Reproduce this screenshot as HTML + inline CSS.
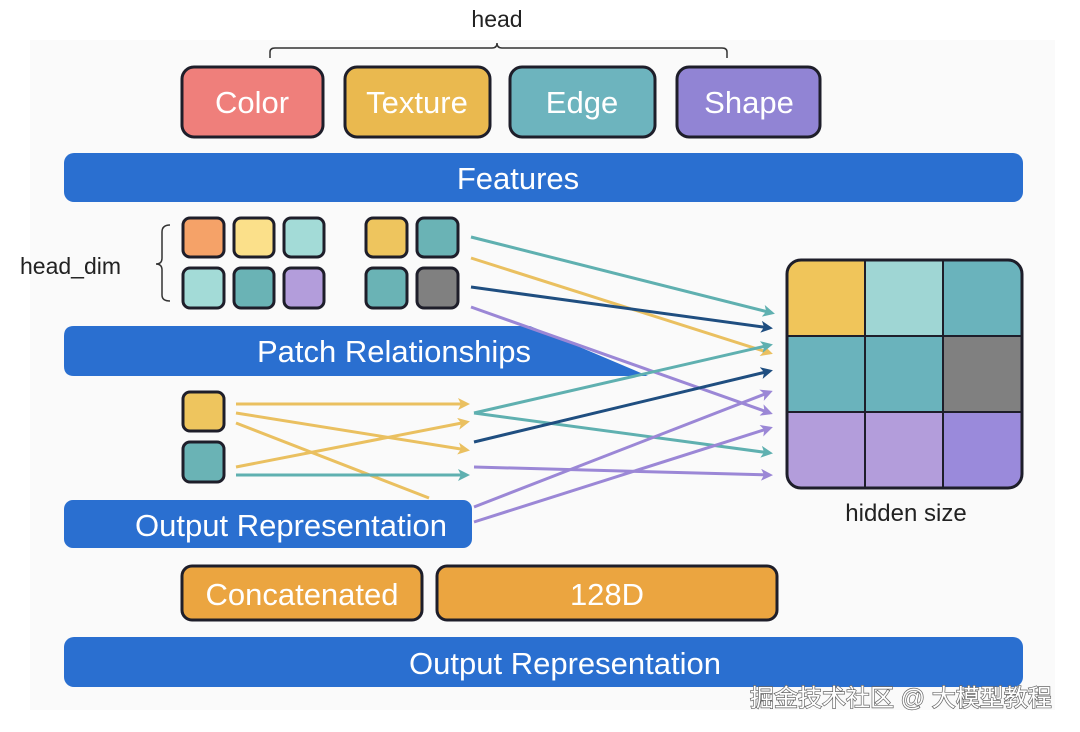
<!DOCTYPE html>
<html><head><meta charset="utf-8"><style>
html,body{margin:0;padding:0;background:#fff;}
svg{display:block;}
text{font-family:"Liberation Sans","Noto Sans CJK SC",sans-serif;}
</style></head><body>
<svg width="1080" height="732" viewBox="0 0 1080 732" xmlns="http://www.w3.org/2000/svg">
<defs>
<marker id="aT" markerWidth="12" markerHeight="12" refX="9" refY="6" orient="auto" markerUnits="userSpaceOnUse"><path d="M0,0 L12,6 L0,12 L3,6 z" fill="#5fb0b0"/></marker>
<marker id="aY" markerWidth="12" markerHeight="12" refX="9" refY="6" orient="auto" markerUnits="userSpaceOnUse"><path d="M0,0 L12,6 L0,12 L3,6 z" fill="#eac060"/></marker>
<marker id="aN" markerWidth="12" markerHeight="12" refX="9" refY="6" orient="auto" markerUnits="userSpaceOnUse"><path d="M0,0 L12,6 L0,12 L3,6 z" fill="#1f4e80"/></marker>
<marker id="aP" markerWidth="12" markerHeight="12" refX="9" refY="6" orient="auto" markerUnits="userSpaceOnUse"><path d="M0,0 L12,6 L0,12 L3,6 z" fill="#9b87d6"/></marker>
</defs>
<rect x="0" y="0" width="1080" height="732" fill="#fff"/>
<rect x="30" y="40" width="1025" height="670" fill="#fafafa"/>
<text x="497" y="27" font-size="23" text-anchor="middle" fill="#222">head</text>
<path d="M270,58 L270,52 Q270,48 275,48 L492,48 Q497,48 497,43 Q497,48 502,48 L722,48 Q727,48 727,52 L727,58" fill="none" stroke="#333" stroke-width="1.5"/>
<g stroke="#1e1e2a" stroke-width="3">
<rect x="182" y="67" width="141" height="70" rx="12" fill="#ef7f7b"/>
<rect x="345" y="67" width="145" height="70" rx="12" fill="#eab94f"/>
<rect x="510" y="67" width="145" height="70" rx="12" fill="#6db4be"/>
<rect x="677" y="67" width="143" height="70" rx="12" fill="#9184d4"/>
</g>
<g font-size="31" fill="#fff" text-anchor="middle">
<text x="252" y="113">Color</text><text x="417" y="113">Texture</text><text x="582" y="113">Edge</text><text x="749" y="113">Shape</text>
</g>
<rect x="64" y="153" width="959" height="49" rx="10" fill="#2a6fd0"/>
<text x="518" y="189" font-size="31" fill="#fff" text-anchor="middle">Features</text>

<text x="20" y="274" font-size="23" fill="#222">head_dim</text>
<path d="M170,225 Q162,225 162,232 L162,258 Q162,264 156,264 Q162,264 162,270 L162,295 Q162,301 170,301" fill="none" stroke="#333" stroke-width="1.5"/>
<g stroke="#1e1e2a" stroke-width="3">
<rect x="183" y="218" width="41" height="39" rx="7" fill="#f5a268"/>
<rect x="234" y="218" width="40" height="39" rx="7" fill="#fbe08a"/>
<rect x="284" y="218" width="40" height="39" rx="7" fill="#a3dbd7"/>
<rect x="366" y="218" width="41" height="39" rx="7" fill="#eec55e"/>
<rect x="417" y="218" width="41" height="39" rx="7" fill="#6ab3b5"/>
<rect x="183" y="268" width="41" height="40" rx="7" fill="#a3dbd7"/>
<rect x="234" y="268" width="40" height="40" rx="7" fill="#6ab3b5"/>
<rect x="284" y="268" width="40" height="40" rx="7" fill="#b39ddb"/>
<rect x="366" y="268" width="41" height="40" rx="7" fill="#6ab3b5"/>
<rect x="417" y="268" width="41" height="40" rx="7" fill="#808080"/>
<rect x="183" y="392" width="41" height="39" rx="7" fill="#eec55e"/>
<rect x="183" y="442" width="41" height="40" rx="7" fill="#6ab3b5"/>
</g>
<path d="M74,326 L530,326 L648,376 L74,376 Q64,376 64,366 L64,336 Q64,326 74,326 z" fill="#2a6fd0"/>
<text x="394" y="362" font-size="31" fill="#fff" text-anchor="middle">Patch Relationships</text>
<rect x="64" y="500" width="408" height="48" rx="9" fill="#2a6fd0"/>
<text x="291" y="536" font-size="31" fill="#fff" text-anchor="middle">Output Representation</text>

<g stroke-width="3" fill="none">
<line x1="471" y1="237" x2="772" y2="313" stroke="#5fb0b0" marker-end="url(#aT)"/>
<line x1="471" y1="258" x2="770" y2="353" stroke="#eac060" marker-end="url(#aY)"/>
<line x1="471" y1="287" x2="770" y2="328" stroke="#1f4e80" marker-end="url(#aN)"/>
<line x1="471" y1="307" x2="770" y2="413" stroke="#9b87d6" marker-end="url(#aP)"/>
<line x1="236" y1="404" x2="467" y2="404" stroke="#eac060" marker-end="url(#aY)"/>
<line x1="236" y1="413" x2="467" y2="450" stroke="#eac060" marker-end="url(#aY)"/>
<line x1="236" y1="423" x2="429" y2="498" stroke="#eac060"/>
<line x1="236" y1="467" x2="467" y2="422" stroke="#eac060" marker-end="url(#aY)"/>
<line x1="236" y1="475" x2="467" y2="475" stroke="#5fb0b0" marker-end="url(#aT)"/>
<line x1="474" y1="413" x2="770" y2="345" stroke="#5fb0b0" marker-end="url(#aT)"/>
<line x1="474" y1="413" x2="770" y2="453" stroke="#5fb0b0" marker-end="url(#aT)"/>
<line x1="474" y1="442" x2="770" y2="371" stroke="#1f4e80" marker-end="url(#aN)"/>
<line x1="474" y1="467" x2="770" y2="475" stroke="#9b87d6" marker-end="url(#aP)"/>
<line x1="474" y1="507" x2="770" y2="392" stroke="#9b87d6" marker-end="url(#aP)"/>
<line x1="474" y1="522" x2="770" y2="428" stroke="#9b87d6" marker-end="url(#aP)"/>
</g>

<clipPath id="gc"><rect x="787" y="260" width="235" height="228" rx="14"/></clipPath>
<g clip-path="url(#gc)">
<rect x="787" y="260" width="78" height="76" fill="#f0c55a"/>
<rect x="865" y="260" width="78" height="76" fill="#9fd6d4"/>
<rect x="943" y="260" width="79" height="76" fill="#6ab3bc"/>
<rect x="787" y="336" width="78" height="76" fill="#6ab3bc"/>
<rect x="865" y="336" width="78" height="76" fill="#6ab3bc"/>
<rect x="943" y="336" width="79" height="76" fill="#808080"/>
<rect x="787" y="412" width="78" height="76" fill="#b39ddb"/>
<rect x="865" y="412" width="78" height="76" fill="#b39ddb"/>
<rect x="943" y="412" width="79" height="76" fill="#9a8adb"/>
</g>
<g stroke="#1e1e2a" stroke-width="2">
<line x1="865" y1="260" x2="865" y2="488"/><line x1="943" y1="260" x2="943" y2="488"/>
<line x1="787" y1="336" x2="1022" y2="336"/><line x1="787" y1="412" x2="1022" y2="412"/>
</g>
<rect x="787" y="260" width="235" height="228" rx="14" fill="none" stroke="#1e1e2a" stroke-width="3"/>
<text x="906" y="521" font-size="24" fill="#222" text-anchor="middle">hidden size</text>

<g stroke="#1e1e2a" stroke-width="3" fill="#eba540">
<rect x="182" y="566" width="240" height="54" rx="10"/>
<rect x="437" y="566" width="340" height="54" rx="10"/>
</g>
<text x="302" y="605" font-size="31" fill="#fff" text-anchor="middle">Concatenated</text>
<text x="607" y="605" font-size="31" fill="#fff" text-anchor="middle">128D</text>
<rect x="64" y="637" width="959" height="50" rx="10" fill="#2a6fd0"/>
<text x="565" y="674" font-size="31" fill="#fff" text-anchor="middle">Output Representation</text>
<text x="750" y="706" font-size="24" fill="#fff" stroke="#666" stroke-width="1.4" paint-order="stroke">掘金技术社区 @ 大模型教程</text>
</svg>
</body></html>
